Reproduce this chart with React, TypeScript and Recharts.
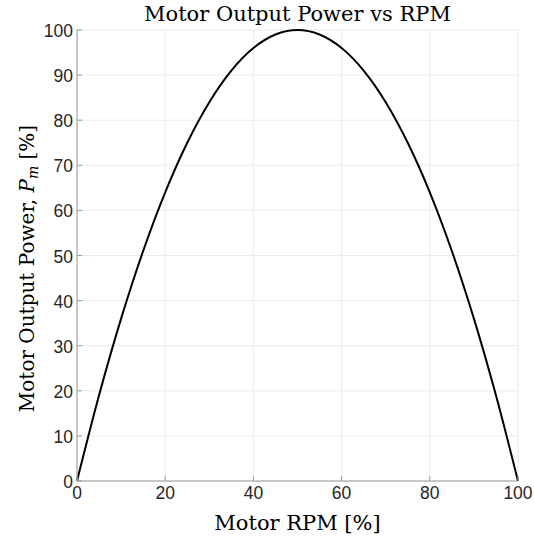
import React from 'react'
import { LineChart, Line, XAxis, YAxis, CartesianGrid } from 'recharts'

// motor RPM (%) and output power (%)
const rpm = [0, 5, 10, 15, 20, 25, 30, 35, 40, 45, 50, 55, 60, 65, 70, 75, 80, 85, 90, 95, 100]
const power = [0, 19, 36, 51, 64, 75, 84, 91, 96, 99, 100, 99, 96, 91, 84, 75, 64, 51, 36, 19, 0]

const xTicks = [0, 20, 40, 60, 80, 100]
const yTicks = [0, 10, 20, 30, 40, 50, 60, 70, 80, 90, 100]

const data = rpm.map((r, i) => ({ rpm: r, power: power[i] }))

const AXIS = '#9a9a9a'
const TICK_TEXT = '#262626'
const SERIF = '"DejaVu Serif", "Liberation Serif", serif'
const SANS = '"Liberation Sans", Arial, sans-serif'
const LABEL_SIZE = 21
const TICK_SIZE = 17.5

const BottomTick = (props: any) => {
  const { x, y, payload } = props
  return (
    <g>
      <line x1={x} y1={y} x2={x} y2={y - 5} stroke={AXIS} />
      <text x={x} y={y + 18} textAnchor="middle" fill={TICK_TEXT} fontSize={TICK_SIZE} fontFamily={SANS}>
        {payload.value}
      </text>
    </g>
  )
}

const LeftTick = (props: any) => {
  const { x, y, payload } = props
  return (
    <g>
      <line x1={x} y1={y} x2={x + 5} y2={y} stroke={AXIS} />
      <text x={x - 4} y={y + 7} textAnchor="end" fill={TICK_TEXT} fontSize={TICK_SIZE} fontFamily={SANS}>
        {payload.value}
      </text>
    </g>
  )
}

const TopTick = (props: any) => {
  const { x, y } = props
  return <line x1={x} y1={y} x2={x} y2={y + 5} stroke={AXIS} />
}

const RightTick = (props: any) => {
  const { x, y } = props
  return <line x1={x} y1={y} x2={x - 5} y2={y} stroke={AXIS} />
}

export default function App() {
  return (
    <div style={{ position: 'absolute', top: 0, left: 0, width: 534, height: 542, background: '#fff' }}>
      <LineChart
        width={534}
        height={542}
        data={data}
        margin={{ top: 30, right: 16, bottom: 0, left: 37 }}>
        <CartesianGrid xAxisId="b" yAxisId="l" stroke="#ebebeb" />
        <XAxis
          xAxisId="b"
          dataKey="rpm"
          type="number"
          domain={[0, 100]}
          ticks={xTicks}
          stroke={AXIS}
          tickLine={false}
          tickSize={0}
          tickMargin={0}
          tick={<BottomTick />}
          height={61}
          label={(props: any) => {
            const vb = props.viewBox
            const cx = vb.x + vb.width / 2
            return (
              <g>
                <text x={cx} y={21} textAnchor="middle" fill="#000" fontSize={LABEL_SIZE} fontFamily={SERIF}>
                  Motor Output Power vs RPM
                </text>
                <text x={cx} y={530} textAnchor="middle" fill="#000" fontSize={LABEL_SIZE} fontFamily={SERIF}>
                  Motor RPM [%]
                </text>
              </g>
            )
          }}
        />
        <XAxis
          xAxisId="t"
          orientation="top"
          dataKey="rpm"
          type="number"
          domain={[0, 100]}
          ticks={xTicks}
          stroke={AXIS}
          tickLine={false}
          tickSize={0}
          tickMargin={0}
          tick={<TopTick />}
          height={0}
        />
        <YAxis
          yAxisId="l"
          type="number"
          domain={[0, 100]}
          ticks={yTicks}
          stroke={AXIS}
          tickLine={false}
          tickSize={0}
          tickMargin={0}
          tick={<LeftTick />}
          width={40}
          label={(props: any) => {
            const vb = props.viewBox
            const cy = vb.y + vb.height / 2 + 13
            const cx = 34
            return (
              <text
                x={cx}
                y={cy}
                transform={`rotate(-90, ${cx}, ${cy})`}
                textAnchor="middle"
                fill="#000"
                fontSize={20}
                fontFamily={SERIF}>
                Motor Output Power,{' '}
                <tspan fontStyle="italic">P</tspan>
                <tspan fontStyle="italic" fontSize={14} dy={4}>m</tspan>
                <tspan dy={-4}> [%]</tspan>
              </text>
            )
          }}
        />
        <YAxis
          yAxisId="r"
          orientation="right"
          type="number"
          domain={[0, 100]}
          ticks={yTicks}
          stroke={AXIS}
          tickLine={false}
          tickSize={0}
          tickMargin={0}
          tick={<RightTick />}
          width={0}
        />
        <Line
          xAxisId="b"
          yAxisId="l"
          type="monotone"
          dataKey="power"
          stroke="#000"
          strokeWidth={2}
          dot={false}
          isAnimationActive={false}
        />
      </LineChart>
    </div>
  )
}
